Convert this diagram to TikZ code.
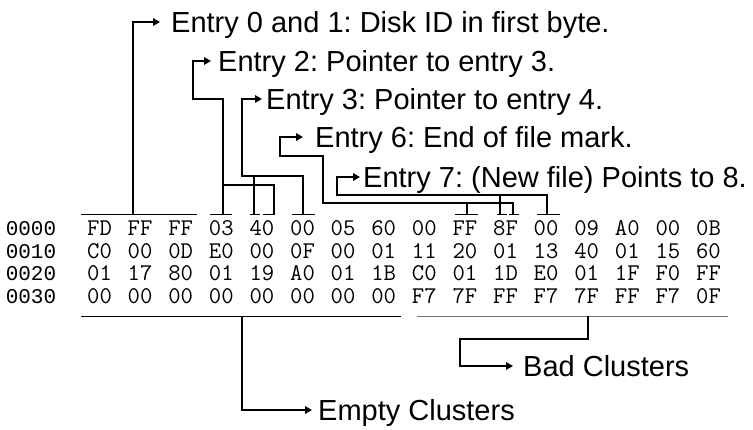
\documentclass[tikz,border=0pt]{standalone}
\usepackage{fontspec}
\setmainfont{Liberation Sans}
\newfontfamily\addrmono{Liberation Mono}
\usetikzlibrary{arrows.meta}
\frenchspacing
\begin{document}
\begin{tikzpicture}[x=1pt,y=-1pt,
  conn/.style={line width=2.6pt},
  arr/.style={conn,-{Triangle[length=7pt,width=7.5pt]}},
  uline/.style={line width=1pt},
  guline/.style={line width=1pt,black!55},
  lbl/.style={font=\fontsize{29}{31}\selectfont, anchor=west, inner sep=0pt, text height=20.8pt, text depth=0pt},
  hex/.style={font=\ttfamily\fontsize{24}{24}\selectfont, anchor=base, inner sep=0pt},
  addr/.style={font=\addrmono\fontsize{21}{21}\selectfont, anchor=base, inner sep=0pt}]
\useasboundingbox (0,0) rectangle (753,429);

% hex dump
\foreach \addr [count=\r from 0] in {0000,0010,0020,0030}
  \node[addr] (a\r) at (31,{228+22.5*\r+7.5}) {\addr};
\foreach \row [count=\r from 0] in {
  {FD,FF,FF,03,40,00,05,60,00,FF,8F,00,09,A0,00,0B},
  {C0,00,0D,E0,00,0F,00,01,11,20,01,13,40,01,15,60},
  {01,17,80,01,19,A0,01,1B,C0,01,1D,E0,01,1F,F0,FF},
  {00,00,00,00,00,00,00,00,F7,7F,FF,F7,7F,FF,F7,0F}}
  \foreach \cell [count=\c from 0] in \row
    \node[hex] (h\r-\c) at ({99.5+40.6*\c},{228+22.5*\r+7.5}) {\cell};

% annotation texts
\node[lbl] (e0) at (171,22) {Entry 0 and 1: Disk ID in first byte.};
\node[lbl] (e2) at (218,61) {Entry 2: Pointer to entry 3.};
\node[lbl] (e3) at (266,99) {Entry 3: Pointer to entry 4.};
\node[lbl] (e6) at (315,137) {Entry 6: End of file mark.};
\node[lbl] (e7) at (363,177) {Entry 7: (New file) Points to 8.};
\node[lbl] (bad) at (523,366) {Bad Clusters};
\node[lbl] (empty) at (318,410) {Empty Clusters};

% underlines
\draw[uline] (81,214) -- (197,214);
\draw[uline] (210,214) -- (232,214);
\draw[uline] (250,214) -- (260,214);
\draw[uline] (263,214) -- (275,214);
\draw[uline] (292,214) -- (315,214);
\draw[uline] (455,214) -- (478,214);
\draw[uline] (497,214) -- (507,214);
\draw[uline] (509,214) -- (519,214);
\draw[uline] (537,214) -- (560,214);
\draw[uline] (81,316) -- (401,316);
\draw[guline] (417,316) -- (728,316);

% tap points
\coordinate (t0) at (133,214);
\coordinate (t2a) at (223,214);
\coordinate (t2b) at (274,214);
\coordinate (t3a) at (254,214);
\coordinate (t3b) at (303,214);
\coordinate (t6a) at (467,214);
\coordinate (t6b) at (513,214);
\coordinate (t7a) at (500,214);
\coordinate (t7b) at (547,214);
\coordinate (tb) at (588,316);
\coordinate (te) at (242,316);

% connectors
\draw[arr] (t0) |- ([xshift=-11pt]e0.west);
\draw[arr] (t2a) |- (193,99) |- ([xshift=-7pt]e2.west);
\draw[conn] (223,185) -| (t2b);
\draw[arr] (t3b) |- (242,176) |- ([xshift=-4pt]e3.west);
\draw[conn] (t3a) -- (254,176);
\draw[arr] (t6b) |- (323,203) |- (280,156) |- ([xshift=-12pt]e6.west);
\draw[conn] (t6a) -- (467,203);
\draw[arr] (t7b) |- (337,195) |- ([xshift=-3pt]e7.west);
\draw[conn] (t7a) -- (500,195);
\draw[arr] (tb) |- (460,339) |- ([xshift=-10pt]bad.west);
\draw[arr] (te) |- ([xshift=-6pt]empty.west);
\end{tikzpicture}
\end{document}
